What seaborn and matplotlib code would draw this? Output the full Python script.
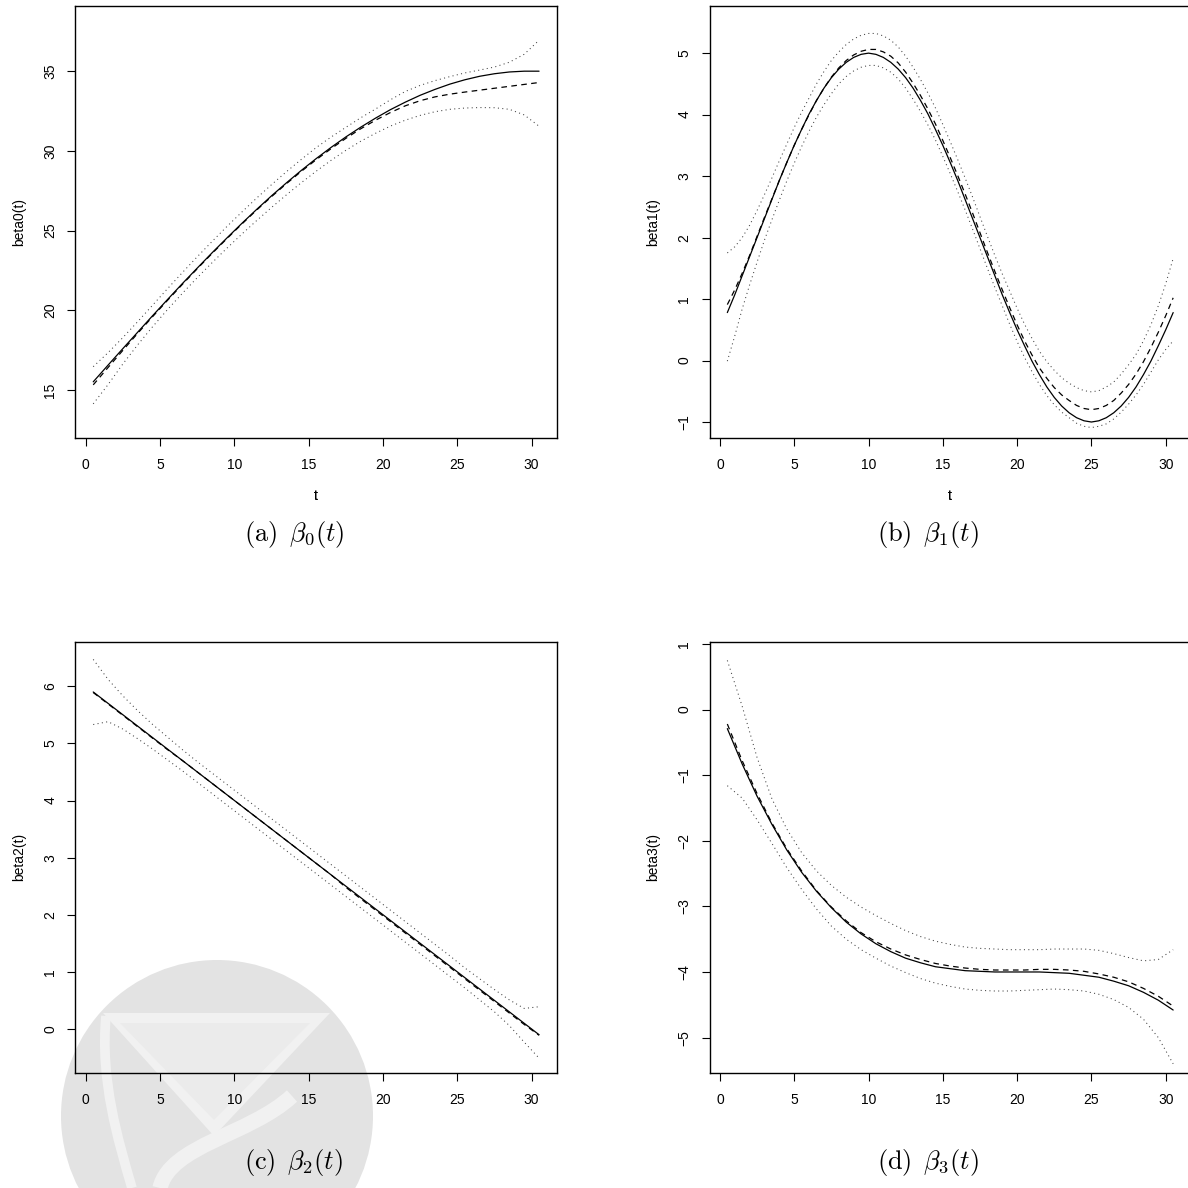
import numpy as np
import pandas as pd
import matplotlib
matplotlib.use("Agg")
import matplotlib.pyplot as plt
import matplotlib.patches as mpatches
from matplotlib.path import Path
import seaborn as sns

# grid of t values
T = [0.5, 1.5, 2.5, 3.5, 4.5, 5.5, 6.5, 7.5, 8.5, 9.5, 10.5, 11.5, 12.5, 13.5, 14.5,
     15.5, 16.5, 17.5, 18.5, 19.5, 20.5, 21.5, 22.5, 23.5, 24.5, 25.5, 26.5, 27.5,
     28.5, 29.5, 30.5]
# finer grid for the wavy beta1 panel
T_fine = [0.5, 1.0, 1.5, 2.0, 2.5, 3.0, 3.5, 4.0, 4.5, 5.0, 5.5, 6.0, 6.5, 7.0, 7.5, 8.0,
          8.5, 9.0, 9.5, 10.0, 10.5, 11.0, 11.5, 12.0, 12.5, 13.0, 13.5, 14.0, 14.5, 15.0,
          15.5, 16.0, 16.5, 17.0, 17.5, 18.0, 18.5, 19.0, 19.5, 20.0, 20.5, 21.0, 21.5,
          22.0, 22.5, 23.0, 23.5, 24.0, 24.5, 25.0, 25.5, 26.0, 26.5, 27.0, 27.5, 28.0,
          28.5, 29.0, 29.5, 30.0, 30.5]

beta0_true = [15.52, 16.57, 17.61, 18.64, 19.67, 20.68, 21.68, 22.65, 23.61, 24.54, 25.45,
              26.33, 27.18, 27.99, 28.77, 29.51, 30.21, 30.87, 31.48, 32.05, 32.58, 33.05,
              33.48, 33.85, 34.18, 34.45, 34.67, 34.83, 34.94, 34.99, 34.99]
beta0_est = [15.33, 16.42, 17.50, 18.57, 19.61, 20.63, 21.63, 22.61, 23.57, 24.50, 25.41,
             26.29, 27.13, 27.94, 28.71, 29.44, 30.13, 30.78, 31.38, 31.92, 32.40, 32.82,
             33.14, 33.38, 33.55, 33.68, 33.80, 33.92, 34.04, 34.16, 34.28]
beta0_up = [16.47, 17.35, 18.30, 19.30, 20.33, 21.36, 22.37, 23.36, 24.32, 25.26, 26.16,
            27.04, 27.88, 28.69, 29.46, 30.20, 30.86, 31.47, 32.07, 32.62, 33.20, 33.72,
            34.10, 34.40, 34.65, 34.88, 35.06, 35.25, 35.55, 36.05, 36.93]
beta0_lo = [14.14, 15.35, 16.65, 17.85, 18.98, 20.05, 21.07, 22.05, 22.99, 23.90, 24.78,
            25.63, 26.45, 27.24, 28.00, 28.72, 29.40, 30.03, 30.60, 31.10, 31.55, 31.92,
            32.22, 32.45, 32.60, 32.68, 32.71, 32.70, 32.60, 32.25, 31.54]

beta1_true = [0.78, 1.07, 1.38, 1.69, 2.00, 2.31, 2.62, 2.93, 3.22, 3.50, 3.76, 4.01, 4.23,
              4.43, 4.60, 4.74, 4.85, 4.93, 4.98, 5.00, 4.98, 4.93, 4.85, 4.74, 4.60, 4.43,
              4.23, 4.01, 3.76, 3.50, 3.22, 2.93, 2.62, 2.31, 2.00, 1.69, 1.38, 1.07, 0.78,
              0.50, 0.24, -0.01, -0.23, -0.43, -0.60, -0.74, -0.85, -0.93, -0.98, -1.00,
              -0.98, -0.93, -0.85, -0.74, -0.60, -0.43, -0.23, -0.01, 0.24, 0.50, 0.78]
beta1_est = [0.91, 1.15, 1.42, 1.71, 2.02, 2.33, 2.63, 2.93, 3.22, 3.50, 3.76, 4.00, 4.23,
             4.43, 4.61, 4.76, 4.88, 4.97, 5.03, 5.06, 5.06, 5.02, 4.95, 4.84, 4.69, 4.51,
             4.31, 4.09, 3.85, 3.58, 3.30, 3.01, 2.71, 2.40, 2.08, 1.76, 1.45, 1.15, 0.86,
             0.58, 0.32, 0.09, -0.12, -0.29, -0.44, -0.56, -0.65, -0.73, -0.78, -0.80,
             -0.78, -0.73, -0.65, -0.53, -0.39, -0.22, -0.02, 0.21, 0.46, 0.73, 1.02]
beta1_up = [1.75, 1.85, 2.00, 2.20, 2.44, 2.70, 2.97, 3.25, 3.52, 3.79, 4.04, 4.27, 4.50,
            4.70, 4.88, 5.02, 5.14, 5.23, 5.29, 5.32, 5.32, 5.28, 5.21, 5.10, 4.95, 4.77,
            4.57, 4.35, 4.11, 3.84, 3.56, 3.27, 2.97, 2.66, 2.34, 2.02, 1.71, 1.41, 1.13,
            0.85, 0.59, 0.36, 0.15, -0.02, -0.16, -0.28, -0.37, -0.44, -0.49, -0.51,
            -0.49, -0.43, -0.35, -0.22, -0.07, 0.10, 0.32, 0.58, 0.89, 1.25, 1.66]
beta1_lo = [-0.01, 0.40, 0.84, 1.23, 1.60, 1.96, 2.29, 2.61, 2.92, 3.21, 3.48, 3.73, 3.96,
            4.16, 4.34, 4.50, 4.62, 4.71, 4.77, 4.80, 4.80, 4.76, 4.69, 4.58, 4.43, 4.25,
            4.05, 3.83, 3.59, 3.32, 3.04, 2.75, 2.45, 2.14, 1.82, 1.50, 1.19, 0.89, 0.59,
            0.31, 0.05, -0.18, -0.39, -0.57, -0.72, -0.84, -0.93, -1.02, -1.07, -1.09,
            -1.07, -1.03, -0.95, -0.84, -0.71, -0.56, -0.39, -0.19, 0.01, 0.18, 0.32]

beta2_true = [5.9, 5.7, 5.5, 5.3, 5.1, 4.9, 4.7, 4.5, 4.3, 4.1, 3.9, 3.7, 3.5, 3.3, 3.1,
              2.9, 2.7, 2.5, 2.3, 2.1, 1.9, 1.7, 1.5, 1.3, 1.1, 0.9, 0.7, 0.5, 0.3, 0.1, -0.1]
beta2_est = [5.89, 5.69, 5.49, 5.29, 5.09, 4.89, 4.70, 4.50, 4.30, 4.10, 3.90, 3.70, 3.50,
             3.30, 3.10, 2.90, 2.70, 2.48, 2.28, 2.08, 1.88, 1.68, 1.48, 1.28, 1.08, 0.88,
             0.68, 0.48, 0.28, 0.08, -0.11]
beta2_up = [6.47, 6.12, 5.83, 5.57, 5.33, 5.11, 4.89, 4.68, 4.48, 4.28, 4.08, 3.88, 3.68,
            3.48, 3.28, 3.08, 2.88, 2.68, 2.48, 2.28, 2.08, 1.88, 1.68, 1.48, 1.28, 1.07,
            0.88, 0.69, 0.51, 0.36, 0.39]
beta2_lo = [5.33, 5.38, 5.25, 5.08, 4.90, 4.71, 4.52, 4.32, 4.12, 3.92, 3.72, 3.52, 3.32,
            3.12, 2.92, 2.72, 2.52, 2.32, 2.12, 1.92, 1.72, 1.52, 1.32, 1.12, 0.92, 0.72,
            0.51, 0.30, 0.06, -0.23, -0.51]

beta3_true = [-0.29, -0.83, -1.32, -1.75, -2.14, -2.48, -2.77, -3.02, -3.24, -3.42, -3.57,
              -3.69, -3.79, -3.86, -3.92, -3.95, -3.98, -3.99, -4.00, -4.00, -4.00, -4.00,
              -4.01, -4.02, -4.05, -4.08, -4.14, -4.21, -4.31, -4.43, -4.58]
beta3_est = [-0.22, -0.78, -1.28, -1.73, -2.12, -2.46, -2.76, -3.01, -3.22, -3.40, -3.54,
             -3.65, -3.74, -3.81, -3.87, -3.91, -3.94, -3.96, -3.97, -3.97, -3.97, -3.96,
             -3.96, -3.97, -3.99, -4.03, -4.08, -4.15, -4.25, -4.37, -4.52]
beta3_up = [0.75, 0.05, -0.73, -1.36, -1.82, -2.18, -2.46, -2.68, -2.86, -3.01, -3.14,
            -3.26, -3.37, -3.46, -3.53, -3.58, -3.62, -3.64, -3.65, -3.66, -3.66, -3.66,
            -3.65, -3.65, -3.65, -3.67, -3.72, -3.78, -3.83, -3.81, -3.66]
beta3_lo = [-1.16, -1.35, -1.68, -2.04, -2.41, -2.74, -3.04, -3.30, -3.50, -3.66, -3.79,
            -3.91, -4.01, -4.10, -4.17, -4.22, -4.26, -4.28, -4.29, -4.29, -4.28, -4.27,
            -4.26, -4.27, -4.29, -4.34, -4.42, -4.54, -4.72, -5.00, -5.40]

x_ticks = [0, 5, 10, 15, 20, 25, 30]
y_labels = ["beta0(t)", "beta1(t)", "beta2(t)", "beta3(t)"]
captions = [r"$\mathrm{(a)}\ \,\beta_0(t)$", r"$\mathrm{(b)}\ \,\beta_1(t)$",
            r"$\mathrm{(c)}\ \,\beta_2(t)$", r"$\mathrm{(d)}\ \,\beta_3(t)$"]

W = 1188.0


def fx(px):
    return px / W


def fy(px):
    return 1 - px / W


sns.set_theme(style="ticks")
plt.rcParams["font.family"] = ["Liberation Sans", "DejaVu Sans"]
plt.rcParams.update({
    "text.color": "black",
    "axes.labelcolor": "black",
    "xtick.color": "black",
    "ytick.color": "black",
    "axes.edgecolor": "black",
    "axes.linewidth": 1.0,
})

fig = plt.figure(figsize=(11.88, 11.88), dpi=100)
fig.patch.set_facecolor("white")

# faint logo watermark in the lower left
band = "#f1f1f1"
wm = []
wm.append(mpatches.Circle((fx(217), fy(1116)), 156 / W, facecolor="#e3e3e3", edgecolor="none"))
wm.append(mpatches.Polygon([(fx(103), fy(1013)), (fx(330), fy(1013)), (fx(214), fy(1136))],
                           facecolor=band, edgecolor="none"))
wm.append(mpatches.Polygon([(fx(120), fy(1023)), (fx(310), fy(1023)), (fx(214), fy(1120))],
                           facecolor="#ebebeb", edgecolor="none"))
swoosh = Path([(fx(292), fy(1096)), (fx(250), fy(1135)), (fx(170), fy(1145)), (fx(160), fy(1188))],
              [Path.MOVETO, Path.CURVE4, Path.CURVE4, Path.CURVE4])
wm.append(mpatches.PathPatch(swoosh, facecolor="none", edgecolor=band, lw=11))
left_arc = Path([(fx(106), fy(1016)), (fx(100), fy(1080)), (fx(118), fy(1140)), (fx(132), fy(1188))],
                [Path.MOVETO, Path.CURVE4, Path.CURVE4, Path.CURVE4])
wm.append(mpatches.PathPatch(left_arc, facecolor="none", edgecolor=band, lw=7))
for p in wm:
    p.set_transform(fig.transFigure)
    p.set_zorder(-5)
    fig.add_artist(p)

panels = [
    (T, beta0_true, beta0_est, beta0_up, beta0_lo, (12.0, 39.05), [15, 20, 25, 30, 35]),
    (T_fine, beta1_true, beta1_est, beta1_up, beta1_lo, (-1.26, 5.76), [-1, 0, 1, 2, 3, 4, 5]),
    (T, beta2_true, beta2_est, beta2_up, beta2_lo, (-0.77, 6.78), [0, 1, 2, 3, 4, 5, 6]),
    (T, beta3_true, beta3_est, beta3_up, beta3_lo, (-5.54, 1.035), [-5, -4, -3, -2, -1, 0, 1]),
]

# pixel boxes of the four plot regions: left, top, bottom
boxes = [(75.4, 6.4, 438.0), (709.5, 6.4, 438.0), (75.4, 641.7, 1073.0), (709.5, 641.7, 1073.0)]
cap_pos = [(294, 535), (928, 535), (294, 1162), (928, 1162)]

for i, (tt, tr, est, up, lo, ylim, yt) in enumerate(panels):
    left, top, bottom = boxes[i]
    ax = fig.add_axes([fx(left), fy(bottom), 481.5 / W, (bottom - top) / W])
    ax.set_facecolor("none")

    df = pd.DataFrame({"t": tt, "true": tr, "est": est, "upper": up, "lower": lo})
    for col in ["upper", "lower"]:
        sns.lineplot(data=df, x="t", y=col, ax=ax, color="0.25", lw=0.75,
                     linestyle=(0, (1, 3.2)))
    sns.lineplot(data=df, x="t", y="est", ax=ax, color="black", lw=0.9,
                 linestyle=(0, (4.5, 3.5)))
    sns.lineplot(data=df, x="t", y="true", ax=ax, color="black", lw=0.9)

    ax.set_xlim(-0.7, 31.7)
    ax.set_ylim(*ylim)
    ax.set_xticks(x_ticks)
    ax.set_yticks(yt)
    ax.tick_params(axis="both", direction="out", length=5.5, width=0.8, labelsize=10)
    ax.tick_params(axis="x", pad=9.0)
    ax.tick_params(axis="y", pad=7.5, labelrotation=90)
    for lab in ax.get_yticklabels():
        lab.set_verticalalignment("center")
    for sp in ax.spines.values():
        sp.set_visible(True)
        sp.set_linewidth(1.0)
        sp.set_color("black")
    ax.grid(False)

    h = bottom - top
    ax.set_xlabel("t", fontsize=10)
    ax.xaxis.set_label_coords(0.5, -(496 - bottom) / h)
    ax.xaxis.label.set_verticalalignment("center")
    ax.set_ylabel(y_labels[i], fontsize=10)
    ax.yaxis.set_label_coords(-56.5 / 481.5, 0.5)
    ax.yaxis.label.set_verticalalignment("center")

    cx, cy = cap_pos[i]
    fig.text(fx(cx), fy(cy), captions[i], ha="center", va="center", fontsize=19,
             math_fontfamily="cm")

fig.savefig("out.png", dpi=100, facecolor="white")
plt.close(fig)
